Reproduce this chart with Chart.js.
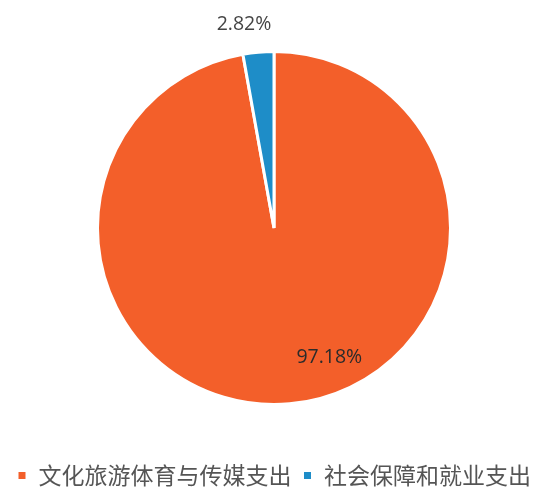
<!DOCTYPE html>
<html><head><meta charset="utf-8">
<script src="https://cdn.jsdelivr.net/npm/chart.js@4"></script>
<style>html,body{margin:0;padding:0;background:#fff}#wrap{width:546px;height:491px}</style>
</head><body><div id="wrap"><canvas id="c"></canvas></div>
<script>
const categories = ['文化旅游体育与传媒支出', '社会保障和就业支出'];
const shares = [97.18, 2.82];
const percentLabels = ['97.18%', '2.82%'];
const colors = ['#F35F2A', '#1E8DC8'];

const labelPlugin = {
  id: 'pctLabels',
  afterDatasetsDraw(chart) {
    const ctx = chart.ctx;
    const meta = chart.getDatasetMeta(0);
    ctx.save();
    ctx.font = '19.5px "Open Sans", Lato, sans-serif';
    ctx.textAlign = 'center';
    ctx.textBaseline = 'middle';
    meta.data.forEach((arc, i) => {
      const p = arc.getProps(['x','y','startAngle','endAngle','outerRadius'], true);
      let ang, dist;
      if (i === 0) { ang = (p.startAngle + p.endAngle) / 2 - 0.314; dist = p.outerRadius * 0.8; ctx.fillStyle = '#2b2b2b'; }
      else { ang = (p.startAngle + p.endAngle) / 2 - 0.058; dist = p.outerRadius + 29; ctx.fillStyle = '#444'; }
      ctx.fillText(percentLabels[i], p.x + Math.cos(ang) * dist, p.y + Math.sin(ang) * dist);
    });
    ctx.restore();
  }
};

new Chart(document.getElementById('c'), {
  type: 'pie',
  data: { labels: categories, datasets: [{ data: shares, backgroundColor: colors, borderColor: '#fff', borderWidth: 3 }] },
  options: {
    responsive: true, maintainAspectRatio: false, animation: false,
    layout: { padding: { top: 50, bottom: -6, left: 2, right: 0 } },
    plugins: {
      tooltip: { enabled: false },
      legend: { position: 'bottom',
        title: { display: true, text: '', font: { size: 10 }, padding: { top: 35, bottom: 0 } },
        labels: { boxWidth: 10, boxHeight: 10, padding: 11, color: '#555',
          font: { size: 23, family: '"Noto Sans CJK SC", sans-serif' } } }
    }
  },
  plugins: [labelPlugin]
});
</script></body></html>
